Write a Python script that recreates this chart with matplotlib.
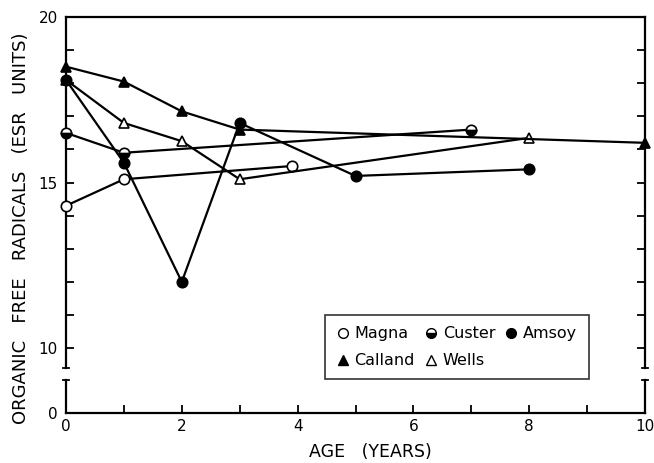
import numpy as np
import matplotlib
matplotlib.use('Agg')
import matplotlib.pyplot as plt
from matplotlib.lines import Line2D

# -------------------------------------------------------------------
# Dados
# -------------------------------------------------------------------
magna_x   = [0, 1, 3.9]
magna_y   = [14.3, 15.1, 15.5]
custer_x  = [0, 1, 7]
custer_y  = [16.5, 15.9, 16.6]
amsoy_x   = [0, 1, 2, 3, 5, 8]
amsoy_y   = [18.1, 15.6, 12.0, 16.8, 15.2, 15.4]
calland_x = [0, 1, 2, 3, 10]
calland_y = [18.5, 18.05, 17.15, 16.6, 16.2]
wells_x   = [0, 1, 2, 3, 8]
wells_y   = [18.1, 16.8, 16.25, 15.1, 16.35]

x_ticks      = [0, 2, 4, 6, 8, 10]
y_ticks_up   = [10, 15, 20]
y_ticks_low  = [0]

plt.rcParams['font.family'] = ['DejaVu Sans']

W, H = 654, 463
fig = plt.figure(figsize=(W / 100, H / 100), dpi=100)

L, R = 66 / W, 645 / W
ax = fig.add_axes([L, 1 - 368 / H, R - L, (368 - 17) / H])      # parte de cima (9.4-20)
ax2 = fig.add_axes([L, 1 - 413 / H, R - L, (413 - 380) / H])    # parte de baixo (0-1)

LW = 1.6
MS = 7.5
estilo = dict(color='black', lw=LW, ms=MS, mec='black', mew=1.2, clip_on=False)

ax.plot(magna_x, magna_y, marker='o', mfc='white', zorder=5, **estilo)
ax.plot(custer_x, custer_y, marker='o', fillstyle='bottom', mfc='black',
        markerfacecoloralt='white', zorder=5, **estilo)
ax.plot(wells_x, wells_y, marker='^', mfc='white', zorder=5, **estilo)
ax.plot(calland_x, calland_y, marker='^', mfc='black', zorder=6, **estilo)
ax.plot(amsoy_x, amsoy_y, marker='o', mfc='black', zorder=6, **estilo)

# eixos
ax.set_xlim(0, 10)
ax.set_ylim(9.4, 20)
ax2.set_xlim(0, 10)
ax2.set_ylim(0, 1.0)

for a in (ax, ax2):
    for s in a.spines.values():
        s.set_linewidth(1.6)
ax.spines['bottom'].set_visible(False)
ax2.spines['top'].set_visible(False)

ax.set_yticks(y_ticks_up)
ax.set_yticks(np.arange(10, 20, 1), minor=True)
ax.set_xticks([])
ax.tick_params(axis='y', which='both', direction='in', left=True, right=True,
               length=6, width=1.3, labelsize=11, pad=6)

ax2.set_yticks(y_ticks_low)
ax2.set_xticks(x_ticks)
ax2.set_xticks(np.arange(0, 11, 1), minor=True)
ax2.tick_params(axis='both', which='both', direction='in', length=6, width=1.3,
                labelsize=11, right=False)
ax2.tick_params(axis='y', pad=6)
ax2.tick_params(axis='x', pad=4)
ax2.set_yticklabels(['0'])

# marcas de quebra nas extremidades dos eixos verticais
for xb in (0, 10):
    ax.plot([xb - 0.06, xb + 0.06], [9.4, 9.4], color='black', lw=1.3, clip_on=False)
    ax2.plot([xb - 0.06, xb + 0.06], [1.0, 1.0], color='black', lw=1.3, clip_on=False)

fig.text(370 / W, 1 - 452 / H, 'AGE   (YEARS)', ha='center', va='center', fontsize=12.5)
fig.text(21 / W, 1 - 228 / H, 'ORGANIC   FREE   RADICALS   (ESR   UNITS)',
         rotation=90, ha='center', va='center', fontsize=13)

# legenda
def h(marker, **kw):
    return Line2D([], [], ls='none', marker=marker, color='black', mec='black',
                  ms=7, mew=1.0, **kw)

handles = [h('o', mfc='white'),
           h('^', mfc='black'),
           h('o', fillstyle='bottom', mfc='black', markerfacecoloralt='white'),
           h('^', mfc='white'),
           h('o', mfc='black')]
labels = ['Magna', 'Calland', 'Custer', 'Wells', 'Amsoy']
leg = fig.legend(handles, labels, ncol=3, loc='upper left',
                 bbox_to_anchor=(325 / W, 1 - 315 / H), fontsize=11.5,
                 frameon=True, fancybox=False, edgecolor='black',
                 handlelength=0.8, handletextpad=0.35, columnspacing=0.6,
                 labelspacing=0.75, borderpad=0.7, borderaxespad=0)
leg.get_frame().set_linewidth(1.2)

plt.savefig('out.png', dpi=100)
